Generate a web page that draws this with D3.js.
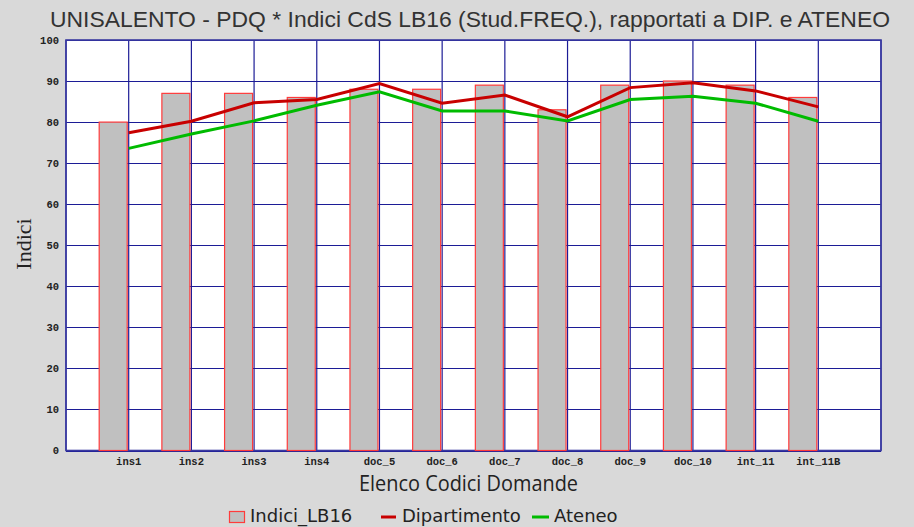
<!DOCTYPE html>
<html>
<head>
<meta charset="utf-8">
<script src="https://cdn.jsdelivr.net/npm/d3@7"></script>
<style>
  html, body { margin: 0; padding: 0; background: #d9d9d9; }
  svg { display: block; }
</style>
</head>
<body>
<script>
const categories = ["ins1","ins2","ins3","ins4","doc_5","doc_6","doc_7","doc_8","doc_9","doc_10","int_11","int_11B"];
const indiciLB16 = [80, 87, 87, 86, 88, 88, 89, 83, 89, 90, 89, 86];
const dipartimento = [77.4, 80.2, 84.7, 85.5, 89.4, 84.6, 86.6, 81.3, 88.4, 89.6, 87.6, 83.7];
const ateneo = [73.6, 77.1, 80.3, 84.1, 87.4, 82.7, 82.7, 80.3, 85.5, 86.3, 84.6, 80.2];
const yTicks = [0,10,20,30,40,50,60,70,80,90,100];

const W = 914, H = 527;
const plotL = 66, plotR = 881, plotT = 40, plotB = 450.5;

const svg = d3.select("body").append("svg").attr("width", W).attr("height", H);
svg.append("rect").attr("width", W).attr("height", H).attr("fill", "#d9d9d9");

// 13 slots: 12 categories + one empty slot; category points sit on slot boundaries
const x = d3.scaleLinear().domain([0, categories.length + 1]).range([plotL, plotR]);
const xc = i => x(i + 1);
const y = d3.scaleLinear().domain([0, 100]).range([plotB, plotT]);

// plot background
svg.append("rect").attr("x", plotL).attr("y", plotT).attr("width", plotR - plotL).attr("height", plotB - plotT).attr("fill", "#ffffff");

const grid = "#1c1c96";
// horizontal grid
svg.append("g").selectAll("line").data(yTicks).join("line")
  .attr("x1", plotL).attr("x2", plotR)
  .attr("y1", d => Math.round(y(d)) + 0.5).attr("y2", d => Math.round(y(d)) + 0.5)
  .attr("stroke", grid).attr("stroke-width", 1.2);
// vertical grid
svg.append("g").selectAll("line").data(d3.range(categories.length + 2)).join("line")
  .attr("x1", d => x(d)).attr("x2", d => x(d))
  .attr("y1", plotT).attr("y2", plotB)
  .attr("stroke", grid).attr("stroke-width", 1.2);
// border
svg.append("rect").attr("x", plotL).attr("y", y(100)).attr("width", plotR - plotL).attr("height", plotB - y(100))
  .attr("fill", "none").attr("stroke", "#3a3aa0").attr("stroke-width", 1.6);

// bars
const barW = 28;
svg.append("g").selectAll("rect").data(indiciLB16).join("rect")
  .attr("x", (d, i) => xc(i) - barW - 1.5)
  .attr("y", d => y(d))
  .attr("width", barW)
  .attr("height", d => y(0) - y(d))
  .attr("fill", "#c0c0c0")
  .attr("stroke", "#ff3b3b")
  .attr("stroke-width", 1.2);

// lines
const line = d3.line().x((d, i) => xc(i)).y(d => y(d));
svg.append("path").datum(ateneo).attr("d", line)
  .attr("fill", "none").attr("stroke", "#00bb00").attr("stroke-width", 3);
svg.append("path").datum(dipartimento).attr("d", line)
  .attr("fill", "none").attr("stroke", "#c80000").attr("stroke-width", 3);

// y tick labels
svg.append("g").selectAll("text").data(yTicks).join("text")
  .attr("x", 59).attr("y", d => y(d)).attr("dy", "0.35em")
  .attr("text-anchor", "end")
  .attr("font-family", "'Liberation Mono', 'DejaVu Sans Mono', monospace")
  .attr("font-weight", "bold").attr("font-size", 10.5).attr("fill", "#222")
  .text(d => d);

// x tick labels
svg.append("g").selectAll("text").data(categories).join("text")
  .attr("x", (d, i) => xc(i)).attr("y", 465)
  .attr("text-anchor", "middle")
  .attr("font-family", "'Liberation Mono', 'DejaVu Sans Mono', monospace")
  .attr("font-weight", "bold").attr("font-size", 10.5).attr("fill", "#222")
  .text(d => d);

// title
svg.append("text").attr("x", 470).attr("y", 27).attr("text-anchor", "middle")
  .attr("font-family", "'Liberation Sans', Arial, sans-serif").attr("font-size", 22).attr("fill", "#333")
  .attr("textLength", 840).attr("lengthAdjust", "spacingAndGlyphs")
  .text("UNISALENTO - PDQ * Indici CdS LB16 (Stud.FREQ.), rapportati a DIP. e ATENEO");

// y axis title
svg.append("text").attr("transform", "translate(31,244) rotate(-90)").attr("text-anchor", "middle")
  .attr("font-family", "'Liberation Serif', 'Times New Roman', serif").attr("font-size", 22).attr("fill", "#222")
  .text("Indici");

// x axis title
svg.append("text").attr("x", 468.5).attr("y", 491).attr("text-anchor", "middle")
  .attr("font-family", "'Open Sans', 'DejaVu Sans', sans-serif").attr("font-size", 21).attr("fill", "#222")
  .attr("textLength", 219).attr("lengthAdjust", "spacingAndGlyphs")
  .text("Elenco Codici Domande");

// legend
const legend = svg.append("g").attr("font-family", "'DejaVu Sans', Verdana, sans-serif").attr("font-size", 18).attr("fill", "#222");
legend.append("rect").attr("x", 229.5).attr("y", 511.5).attr("width", 15).attr("height", 11)
  .attr("fill", "#c0c0c0").attr("stroke", "#ff3b3b").attr("stroke-width", 1.2);
legend.append("text").attr("x", 250).attr("y", 522).text("Indici_LB16");
legend.append("line").attr("x1", 381).attr("x2", 396).attr("y1", 517).attr("y2", 517).attr("stroke", "#c80000").attr("stroke-width", 3);
legend.append("text").attr("x", 402).attr("y", 522).text("Dipartimento");
legend.append("line").attr("x1", 532).attr("x2", 549).attr("y1", 517).attr("y2", 517).attr("stroke", "#00bb00").attr("stroke-width", 3);
legend.append("text").attr("x", 554).attr("y", 522).text("Ateneo");
</script>
</body>
</html>
